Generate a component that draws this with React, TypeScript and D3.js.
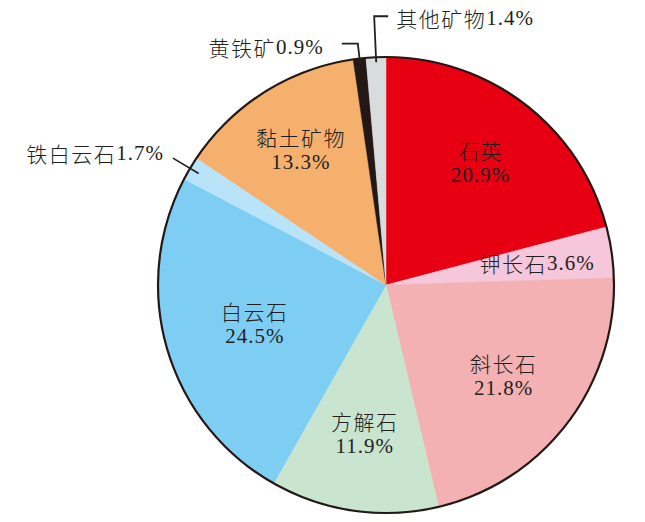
import React from "react";
import * as d3 from "d3";

const categories = ["石英", "钾长石", "斜长石", "方解石", "白云石", "铁白云石", "黏土矿物", "黄铁矿", "其他矿物"];
const values = [20.9, 3.6, 21.8, 11.9, 24.5, 1.7, 13.3, 0.9, 1.4];
const colors = ["#e60012", "#f6c6da", "#f3b1b3", "#c9e4cf", "#7ecef4", "#b9e3f8", "#f5b06d", "#231815", "#d9dcdc"];
// label mode: "in2" two lines inside, "in1" one line inside, others outside with leader
const labelModes = ["in2", "in1", "in2", "in2", "in2", "outLeft", "in2", "outTopLeft", "outTopRight"];

const W = 645, H = 522;
const CX = 386, CY = 285, R = 228;
const labelRatio = [0.68, 0.67, 0.65, 0.66, 0.6, 1, 0.7, 1, 1];
const FONT = "'Liberation Serif', 'Times New Roman', 'Noto Sans CJK SC', serif";
const CJK = "'Noto Sans CJK SC', sans-serif";
const TXT = "#231f20";

function Label({ name, pct }: { name?: string; pct?: string }) {
  return (
    <>
      {name ? (
        <tspan fontFamily={CJK} fontWeight={300} letterSpacing={1.5}>{name}</tspan>
      ) : null}
      {pct ? <tspan letterSpacing={1}>{pct}</tspan> : null}
    </>
  );
}

export default function App() {
  const pie = d3.pie<number>().sort(null).value((d) => d)(values);
  const arc = d3.arc<d3.PieArcDatum<number>>().innerRadius(0).outerRadius(R);

  const pos = (angle: number, r: number): [number, number] => [Math.sin(angle) * r, -Math.cos(angle) * r];

  return (
    <svg width={W} height={H} style={{ position: "absolute", left: 0, top: 0 }} fontFamily={FONT}>
      <g transform={`translate(${CX},${CY})`}>
        {pie.map((p, i) => (
          <path key={i} d={arc(p) || ""} fill={colors[i]} stroke={colors[i]} strokeWidth={0.5} />
        ))}
        <circle r={R} fill="none" stroke="#231815" strokeWidth={2.2} />
        {pie.map((p, i) => {
          const mid = (p.startAngle + p.endAngle) / 2;
          const pct = `${values[i].toFixed(1)}%`;
          const mode = labelModes[i];
          if (mode === "in2" || mode === "in1") {
            const [x, y] = pos(mid, R * labelRatio[i]);
            if (mode === "in1") {
              return (
                <text key={"t" + i} x={x} y={y} textAnchor="middle" dominantBaseline="central" fontSize={21} fill={TXT}>
                  <Label name={categories[i]} pct={pct} />
                </text>
              );
            }
            return (
              <g key={"t" + i} fill={TXT} fontSize={21}>
                <text x={x} y={y - 12.5} textAnchor="middle" dominantBaseline="central"><Label name={categories[i]} /></text>
                <text x={x} y={y + 12.5} textAnchor="middle" dominantBaseline="central"><Label pct={pct} /></text>
              </g>
            );
          }
          if (mode === "outLeft") {
            const [x1, y1] = pos(mid, R - 10);
            const [x2, y2] = pos(mid, R + 20);
            return (
              <g key={"t" + i}>
                <line x1={x1} y1={y1} x2={x2} y2={y2} stroke={TXT} strokeWidth={1.6} />
                <text x={x2 - 9} y={y2 - 5} textAnchor="end" dominantBaseline="central" fontSize={21} fill={TXT}>
                  <Label name={categories[i]} pct={pct} />
                </text>
              </g>
            );
          }
          if (mode === "outTopLeft") {
            const [x1, y1] = pos(mid, R - 5);
            const [x2, y2] = pos(mid, R + 15);
            const hx = x2 - 16;
            return (
              <g key={"t" + i}>
                <polyline points={`${x1},${y1} ${x2},${y2} ${hx},${y2}`} fill="none" stroke={TXT} strokeWidth={1.8} />
                <text x={hx - 18} y={y2 + 3.5} textAnchor="end" dominantBaseline="central" fontSize={21} fill={TXT}>
                  <Label name={categories[i]} pct={pct} />
                </text>
              </g>
            );
          }
          const [x1, y1] = pos(mid, R - 5);
          const [x2, y2] = pos(mid, R + 41);
          const hx = x2 + 14;
          return (
            <g key={"t" + i}>
              <polyline points={`${x1},${y1} ${x2},${y2} ${hx},${y2}`} fill="none" stroke={TXT} strokeWidth={1.8} />
              <text x={hx + 8} y={y2 + 1.5} textAnchor="start" dominantBaseline="central" fontSize={21} fill={TXT}>
                <Label name={categories[i]} pct={pct} />
              </text>
            </g>
          );
        })}
      </g>
    </svg>
  );
}
